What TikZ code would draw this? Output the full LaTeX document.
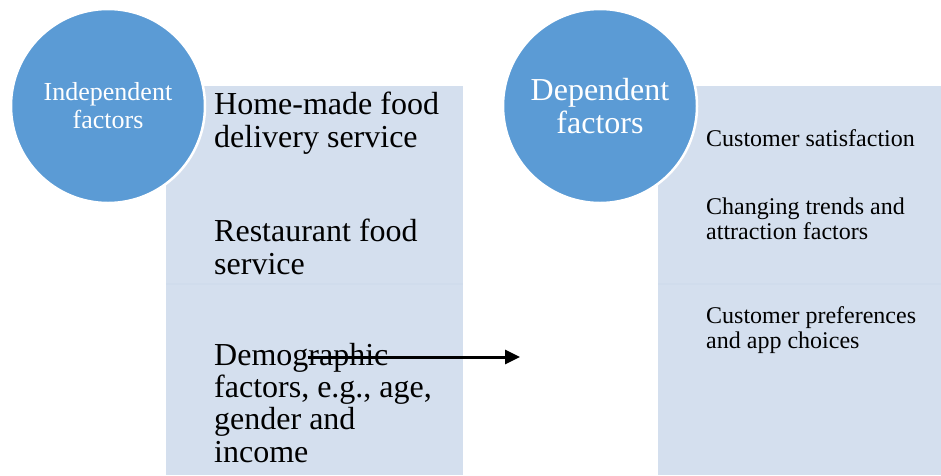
\documentclass[tikz,border=0pt]{standalone}
\usepackage{fontspec}
\setmainfont{Liberation Serif}
\usetikzlibrary{arrows.meta}
\definecolor{circblue}{HTML}{5B9BD5}
\definecolor{boxblue}{HTML}{D4DFEE}
\definecolor{sepblue}{HTML}{D0DCEC}
\tikzset{
	factor/.style={circle, fill=circblue, draw=white, line width=2.5pt, minimum size=194pt, inner sep=0pt, text=white, align=center},
	item/.style={anchor=base west, inner sep=0pt, align=left, text=black},
	bigitem/.style={item, font=\fontsize{32}{32.3}\selectfont},
	smallitem/.style={item, font=\fontsize{24}{25}\selectfont}
}
\begin{document}
\begin{tikzpicture}[x=1pt, y=-1pt]
	\useasboundingbox (0,0) rectangle (941,475);
	\fill[white] (0,0) rectangle (941,475);
	
	\fill[boxblue] (166,86) rectangle (463,475); %left box
	\fill[boxblue] (658,86) rectangle (941,475); %right box
	\fill[sepblue] (166,283) rectangle (463,285);
	\fill[sepblue] (658,283) rectangle (941,285);
	
	\node[factor, font=\fontsize{26}{28}\selectfont] at (108,106) (indep) {Independent\\factors};
	\node[factor, font=\fontsize{32}{33}\selectfont] at (600,106) (dep) {Dependent\\factors};
	
	% base anchor sits on the last line
	\node[bigitem] at (214,147) (homemade) {Home-made food\\delivery service};
	\node[bigitem] at (214,274) (restaurant) {Restaurant food\\service};
	\node[bigitem] at (214,462) (demographic) {Demographic\\factors, e.g., age,\\gender and\\income};
	
	\node[smallitem] at (706,146) (satisfaction) {Customer satisfaction};
	\node[smallitem] at (706,239) (trends) {Changing trends and\\attraction factors};
	\node[smallitem] at (706,348) (preferences) {Customer preferences\\and app choices};
	
	\coordinate (arrowstart) at (308,357);
	\coordinate (arrowend) at (520,357);
	\draw[line width=3pt, -{Triangle[length=15pt, width=14pt]}] (arrowstart) -- (arrowend);
\end{tikzpicture}
\end{document}
